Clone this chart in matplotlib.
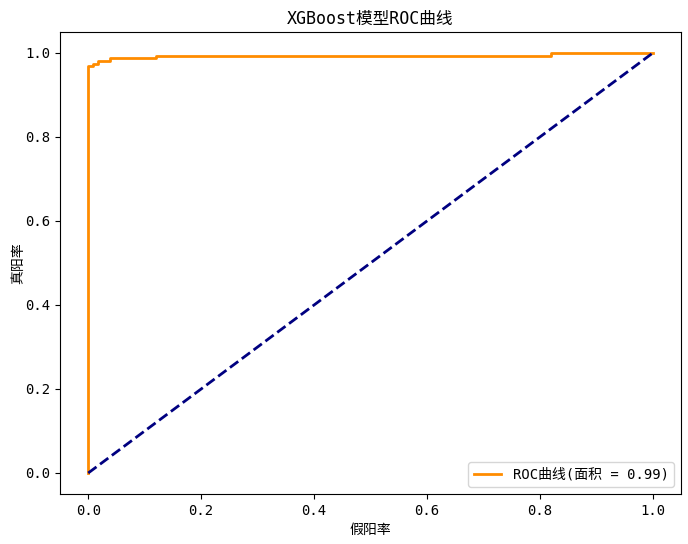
import matplotlib
matplotlib.use("Agg")
import matplotlib.pyplot as plt

plt.rcParams['font.family'] = ['DejaVu Sans Mono', 'Noto Sans CJK SC']
plt.rcParams['axes.unicode_minus'] = False

fpr = [0.0, 0.0, 0.009, 0.009, 0.018, 0.018, 0.039, 0.039, 0.12, 0.12, 0.82, 0.82, 1.0]
tpr = [0.0, 0.969, 0.969, 0.975, 0.975, 0.981, 0.981, 0.987, 0.987, 0.993, 0.993, 1.0, 1.0]
roc_auc = 0.99
diag = [0, 1]

fig = plt.figure(figsize=(6.88, 5.44), dpi=100)
ax = fig.add_axes([60/688, 50/544, 621/688, 462/544])
ax.plot(fpr, tpr, color='darkorange', lw=2, label=f'ROC曲线(面积 = {roc_auc:.2f})')
ax.plot(diag, diag, color='navy', lw=2, linestyle='--')
ax.set_xlabel('假阳率')
ax.set_ylabel('真阳率', labelpad=0)
ax.set_title('XGBoost模型ROC曲线')
ax.legend(loc='lower right')
fig.savefig('out.png', dpi=100)
